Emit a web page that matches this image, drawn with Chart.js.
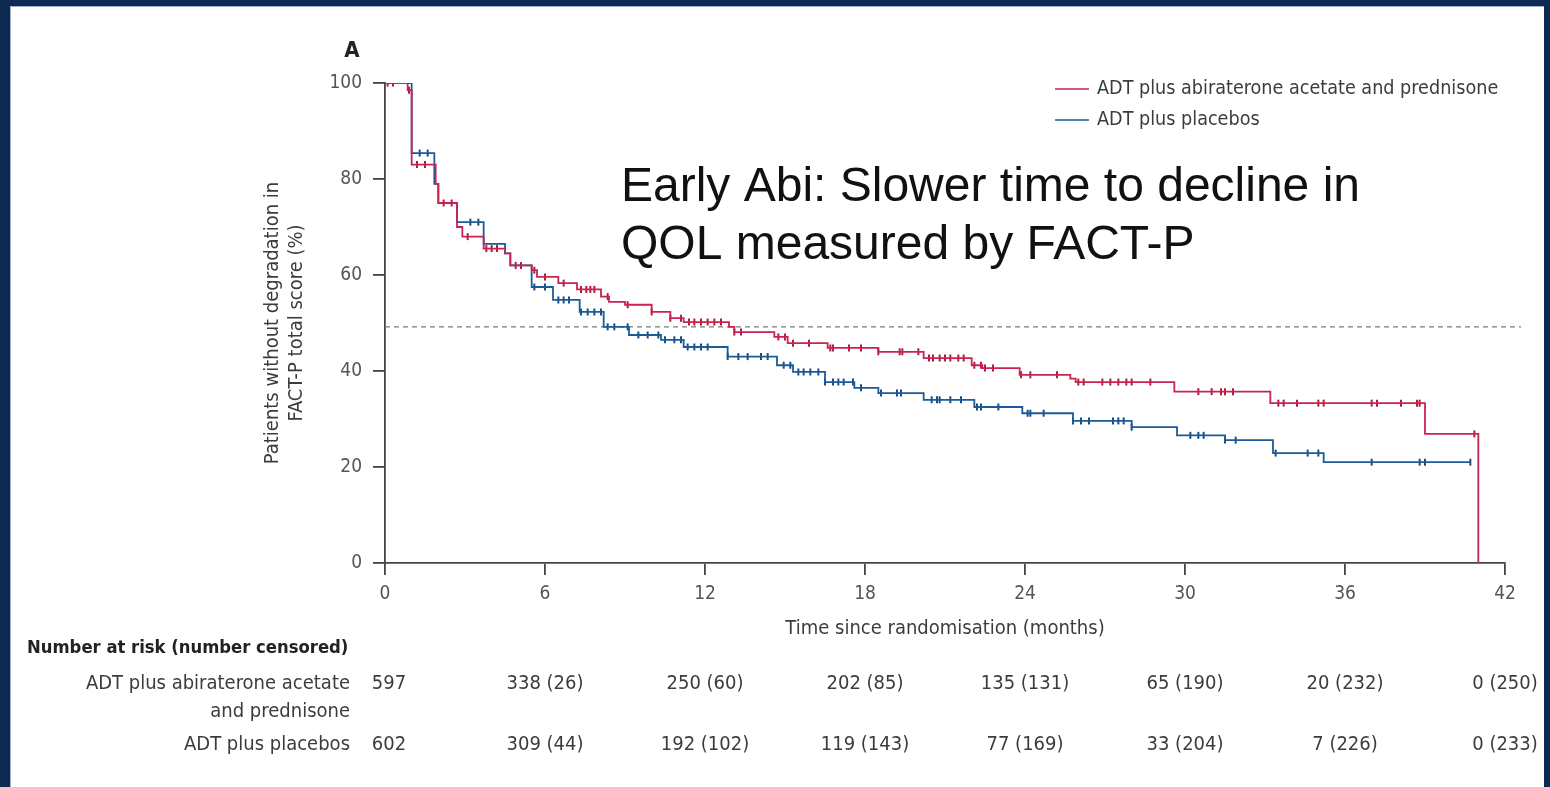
<!DOCTYPE html>
<html>
<head>
<meta charset="utf-8">
<script src="https://cdn.jsdelivr.net/npm/chart.js@4/dist/chart.umd.min.js"></script>
<style>
  html, body { margin: 0; padding: 0; background: #0f2a52; width: 1550px; height: 787px; overflow: hidden; }
  #sheet { position: absolute; left: 10px; top: 6px; width: 1534px; height: 781px; background: #fff;
           border-top: 1px solid #9fb2cc; border-left: 1px solid #9fb2cc; box-sizing: border-box; }
  #wrap { position: absolute; left: 0; top: 0; width: 1550px; height: 787px; }
</style>
</head>
<body>
<div id="sheet"></div>
<div id="wrap"><canvas id="km" width="1550" height="787"></canvas></div>
<script>
// Kaplan-Meier steps: time of each drop (months) and % without degradation after it
const abiTime = [0, 0.85, 1.0, 1.9, 2.0, 2.7, 2.9, 3.7, 4.5, 4.7, 5.5, 5.7, 6.5, 7.2, 8.1, 8.4, 9.0, 10.0, 10.7, 11.2, 12.9, 13.1, 14.6, 15.1, 16.6, 18.5, 20.2, 22.0, 22.4, 23.8, 25.7, 25.9, 29.6, 33.2, 39.0, 41.0];
const abiSurv = [100, 98.5, 83, 79, 75, 70, 68, 65.5, 64.5, 62, 61, 59.6, 58.3, 57, 55.5, 54.4, 53.8, 52.3, 51, 50.2, 49.2, 48.1, 47.1, 45.8, 44.8, 44, 42.7, 41.2, 40.6, 39.2, 38.4, 37.7, 35.7, 33.3, 26.9, 0];
const pboTime = [0, 1.0, 1.85, 2.0, 2.7, 3.7, 4.5, 4.7, 5.5, 6.3, 7.3, 8.2, 9.15, 10.35, 11.2, 12.85, 14.7, 15.3, 16.5, 17.6, 18.5, 20.2, 22.1, 23.9, 25.8, 28.0, 29.7, 31.5, 33.3, 35.2, 40.7];
const pboSurv = [100, 85.4, 79, 75, 71, 66.5, 64.5, 62, 57.5, 54.8, 52.3, 49.2, 47.5, 46.5, 45, 43, 41.2, 39.8, 37.7, 36.5, 35.4, 34, 32.5, 31.2, 29.6, 28.3, 26.6, 25.6, 22.9, 21, 21];

// censoring times (months)
const abiCensor = [0.1, 0.3, 0.9, 1.2, 1.5, 2.2, 2.5, 3.1, 3.8, 4.0, 4.2, 4.9, 5.1, 5.6, 6.0, 6.7, 7.35, 7.55, 7.7, 7.85, 8.35, 9.1, 10.0, 10.7, 11.1, 11.4, 11.6, 11.85, 12.1, 12.35, 12.6, 13.1, 13.35, 14.75, 15.0, 15.3, 15.9, 16.7, 16.8, 17.4, 17.85, 18.5, 19.3, 19.4, 20.0, 20.4, 20.55, 20.8, 21.0, 21.2, 21.5, 21.7, 22.1, 22.35, 22.5, 22.8, 23.85, 24.2, 25.2, 26.0, 26.2, 26.9, 27.2, 27.5, 27.8, 28.0, 28.7, 30.5, 31.0, 31.35, 31.5, 31.8, 33.5, 33.7, 34.2, 35.0, 35.2, 37.0, 37.2, 38.1, 38.7, 38.8, 40.85];
const pboCensor = [1.3, 1.6, 3.2, 3.5, 5.6, 6.0, 6.5, 6.9, 6.7, 7.35, 7.6, 7.85, 8.1, 8.35, 8.6, 9.1, 9.5, 9.85, 10.25, 10.5, 10.85, 11.1, 11.35, 11.6, 11.85, 12.1, 12.85, 13.25, 13.6, 14.1, 14.35, 14.95, 15.2, 15.5, 15.7, 15.95, 16.25, 16.5, 16.8, 17.0, 17.2, 17.55, 17.85, 18.6, 19.2, 19.35, 20.5, 20.7, 20.8, 21.2, 21.6, 22.2, 22.35, 23.0, 24.1, 24.2, 24.7, 25.8, 26.1, 26.4, 27.3, 27.5, 27.7, 28.0, 30.2, 30.5, 30.7, 31.5, 31.9, 33.4, 34.6, 35.0, 37.0, 38.8, 39.0, 40.7];

const medianLine = 49.2;
const xTicks = [0, 6, 12, 18, 24, 30, 36, 42];
const riskAbi = ['597', '338 (26)', '250 (60)', '202 (85)', '135 (131)', '65 (190)', '20 (232)', '0 (250)'];
const riskPbo = ['602', '309 (44)', '192 (102)', '119 (143)', '77 (169)', '33 (204)', '7 (226)', '0 (233)'];

const RED = '#c9244f';
const BLUE = '#1b5c98';
const NARROW = "'Liberation Sans Narrow', 'DejaVu Sans Condensed', sans-serif";

function steps(times, surv) {
  return times.map((t, i) => ({ x: t, y: surv[i] }));
}

// survival level in force at time t
function survAt(times, surv, t) {
  let v = surv[0];
  for (let i = 0; i < times.length; i++) {
    if (times[i] <= t) v = surv[i];
  }
  return v;
}

function censorPoints(cens, times, surv) {
  return cens.map(t => ({ x: t, y: survAt(times, surv, t) }));
}

const overlay = {
  id: 'overlay',
  afterDraw(chart) {
    const { ctx } = chart;
    const xs = chart.scales.x;
    ctx.save();

    // panel letter
    ctx.fillStyle = '#222';
    ctx.font = "bold 22px " + NARROW;
    ctx.textAlign = 'center';
    ctx.textBaseline = 'middle';
    ctx.fillText('A', 352, 51);

    // legend, top right
    const items = [
      { label: chart.data.datasets[0].label, color: RED, y: 89 },
      { label: chart.data.datasets[1].label, color: BLUE, y: 120 }
    ];
    ctx.font = "19.6px " + NARROW;
    ctx.textAlign = 'left';
    items.forEach(it => {
      ctx.strokeStyle = it.color;
      ctx.lineWidth = 1.6;
      ctx.beginPath();
      ctx.moveTo(1055, it.y);
      ctx.lineTo(1089, it.y);
      ctx.stroke();
      ctx.fillStyle = '#3c3c3c';
      ctx.fillText(it.label, 1097, it.y);
    });

    // headline
    ctx.fillStyle = '#111';
    ctx.font = "48px 'Liberation Sans', Arial, sans-serif";
    ctx.textBaseline = 'alphabetic';
    ctx.fillText('Early Abi: Slower time to decline in', 621, 201);
    ctx.fillText('QOL measured by FACT-P', 621, 259);

    // number at risk table
    ctx.textBaseline = 'middle';
    ctx.fillStyle = '#222';
    ctx.font = "bold 18.3px " + NARROW;
    ctx.fillText('Number at risk (number censored)', 27, 648);

    ctx.font = "20px " + NARROW;
    ctx.fillStyle = '#3c3c3c';
    ctx.textAlign = 'right';
    ctx.fillText('ADT plus abiraterone acetate', 350, 684);
    ctx.fillText('and prednisone', 350, 712);
    ctx.fillText('ADT plus placebos', 350, 745);

    ctx.textAlign = 'center';
    xTicks.forEach((t, i) => {
      const px = xs.getPixelForValue(t);
      ctx.fillText(riskAbi[i], px + (i === 0 ? 4 : 0), 684);
      ctx.fillText(riskPbo[i], px + (i === 0 ? 4 : 0), 745);
    });
    ctx.restore();
  }
};

const tickFont = { family: NARROW, size: 19 };
const titleFont = { family: NARROW, size: 20 };

new Chart(document.getElementById('km'), {
  type: 'line',
  data: {
    datasets: [
      {
        label: 'ADT plus abiraterone acetate and prednisone',
        data: steps(abiTime, abiSurv),
        stepped: true,
        borderColor: RED,
        borderWidth: 1.8,
        pointRadius: 0
      },
      {
        label: 'ADT plus placebos',
        data: steps(pboTime, pboSurv),
        stepped: true,
        borderColor: BLUE,
        borderWidth: 1.8,
        pointRadius: 0
      },
      {
        label: 'abi censored',
        data: censorPoints(abiCensor, abiTime, abiSurv),
        showLine: false,
        pointStyle: 'line',
        rotation: 90,
        pointRadius: 3.5,
        pointBorderWidth: 2,
        pointBorderColor: '#b01a44'
      },
      {
        label: 'placebo censored',
        data: censorPoints(pboCensor, pboTime, pboSurv),
        showLine: false,
        pointStyle: 'line',
        rotation: 90,
        pointRadius: 3.5,
        pointBorderWidth: 2,
        pointBorderColor: '#164f86'
      },
      {
        label: 'median',
        data: [{ x: 0, y: medianLine }, { x: 42.6, y: medianLine }],
        borderColor: '#7a7a7a',
        borderWidth: 1.3,
        borderDash: [5, 4],
        pointRadius: 0,
        clip: false
      }
    ]
  },
  options: {
    responsive: false,
    animation: false,
    devicePixelRatio: 1,
    layout: { padding: { left: 250, top: 83, right: 45, bottom: 146 } },
    plugins: { legend: { display: false }, tooltip: { enabled: false } },
    scales: {
      x: {
        type: 'linear',
        min: 0,
        max: 42,
        afterFit: s => { s.height = 78; },
        afterBuildTicks: s => { s.ticks = xTicks.map(v => ({ value: v })); },
        border: { display: true, color: '#444', width: 1.8 },
        grid: { display: true, drawOnChartArea: false, drawTicks: true, tickLength: 12, color: '#444', lineWidth: 1.8 },
        ticks: { font: tickFont, color: '#555', padding: 8, maxRotation: 0 },
        title: { display: true, text: 'Time since randomisation (months)', font: titleFont, color: '#3c3c3c', padding: { top: 0, bottom: 0 } }
      },
      y: {
        type: 'linear',
        min: 0,
        max: 100,
        afterFit: s => { s.width = 135; },
        border: { display: true, color: '#444', width: 1.8 },
        grid: { display: true, drawOnChartArea: false, drawTicks: true, tickLength: 12, color: '#444', lineWidth: 1.8 },
        ticks: { stepSize: 20, font: tickFont, color: '#555', padding: 11 },
        title: { display: true, text: ['Patients without degradation in', 'FACT-P total score (%)'], font: titleFont, color: '#3c3c3c', padding: { top: 11, bottom: 0 } }
      }
    }
  },
  plugins: [overlay]
});
</script>
</body>
</html>
